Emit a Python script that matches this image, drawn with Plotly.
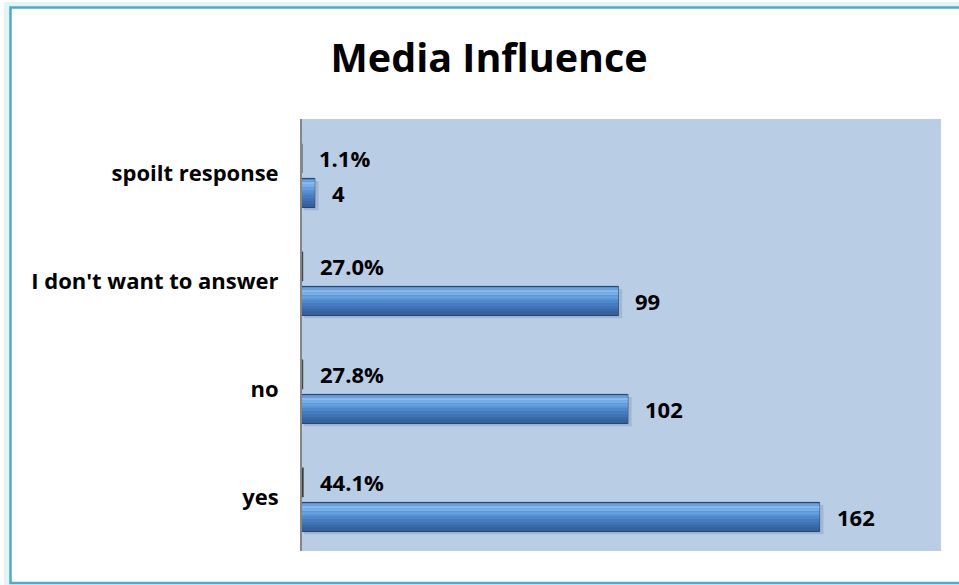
import plotly.graph_objects as go

# Survey answers on media influence
categories = ["yes", "no", "I don't want to answer", "spoilt response"]
counts = [162, 102, 99, 4]
percents = [44.1, 27.8, 27.0, 1.1]
count_labels = [str(v) for v in counts]
percent_labels = [f"{v:.1f}%" for v in percents]

FONT = "Open Sans"
pct_len = [p / 100 for p in percents]

BAR_OFF = -0.32
BAR_W = 0.27

fig = go.Figure()

# soft shadow under each count bar
fig.add_trace(go.Bar(
    y=categories, x=[c + 0.6 for c in counts], orientation="h",
    base=0.6, offset=BAR_OFF - 0.025, width=BAR_W,
    marker=dict(color="rgba(60,70,90,0.16)", line=dict(width=0)),
    hoverinfo="skip", showlegend=False,
))
# count bars: outline body
fig.add_trace(go.Bar(
    y=categories, x=counts, orientation="h",
    offset=BAR_OFF, width=BAR_W,
    marker=dict(color="#33609C", line=dict(color="#22436B", width=1)),
    showlegend=False, name="count",
))

# vertical shading of the count bars, bottom (dark) to top (light)
shade = ["#34629F", "#3A6AAA", "#4073B5", "#477DBF", "#4F88CA",
         "#5993D4", "#66A0DE", "#76AEE8", "#86BCF1", "#6E9FD8"]
n = len(shade)
inner_off = BAR_OFF + 0.012
inner_w = BAR_W - 0.022
band = inner_w / n
for i, col in enumerate(shade):
    fig.add_trace(go.Bar(
        y=categories, x=counts, orientation="h",
        offset=inner_off + i * band, width=band * 1.05,
        marker=dict(color=col, line=dict(width=0)),
        hoverinfo="skip", showlegend=False,
    ))

# percentage bars (fractions on the same axis, so they stay hairline-thin)
fig.add_trace(go.Bar(
    y=categories, x=pct_len, orientation="h",
    offset=0.0, width=0.27,
    marker=dict(color="#3F3F3F", line=dict(color="#3F3F3F", width=0.5)),
    showlegend=False, name="percent",
))

label_font = dict(family=FONT, size=22, color="#000000", weight="bold")
annotations = []
for cat, c, lab in zip(categories, counts, count_labels):
    annotations.append(dict(
        x=c, y=cat, xref="x", yref="y", text=lab, showarrow=False,
        xanchor="left", yanchor="middle", xshift=15, yshift=-20,
        font=label_font,
    ))
for cat, p, lab in zip(categories, pct_len, percent_labels):
    annotations.append(dict(
        x=p, y=cat, xref="x", yref="y", text=lab, showarrow=False,
        xanchor="left", yanchor="middle", xshift=15, yshift=15,
        font=label_font,
    ))

fig.update_layout(
    width=959, height=585,
    margin=dict(l=302, r=18, t=119, b=34),
    paper_bgcolor="#FFFFFF",
    plot_bgcolor="#B9CDE5",
    barmode="overlay",
    title=dict(
        text="<b>Media Influence</b>", x=0.51, xanchor="center",
        y=0.9, yanchor="middle",
        font=dict(family=FONT, size=39.5, color="#000000"),
    ),
    xaxis=dict(range=[0, 200], showticklabels=False, showgrid=False,
               zeroline=False, showline=False, ticks=""),
    yaxis=dict(
        type="category", categoryorder="array", categoryarray=categories,
        range=[-0.5, 3.5],
        showgrid=False, zeroline=False, showline=True,
        linecolor="#868686", linewidth=2, ticks="",
        ticklabelstandoff=17,
        tickfont=dict(family=FONT, size=22, color="#000000", weight="bold"),
    ),
    annotations=annotations,
    shapes=[
        # outer chart frame and its faint glow on the left
        dict(type="rect", xref="paper", yref="paper",
             x0=-0.462, x1=1.05, y0=-0.081, y1=1.264,
             line=dict(color="rgba(75,172,198,0.15)", width=6), layer="below"),
        dict(type="rect", xref="paper", yref="paper",
             x0=-0.4562, x1=1.04, y0=-0.0741, y1=1.2581,
             line=dict(color="#4BACC6", width=2.5), layer="above"),
    ],
    showlegend=False,
)

fig.write_html("out.html")
